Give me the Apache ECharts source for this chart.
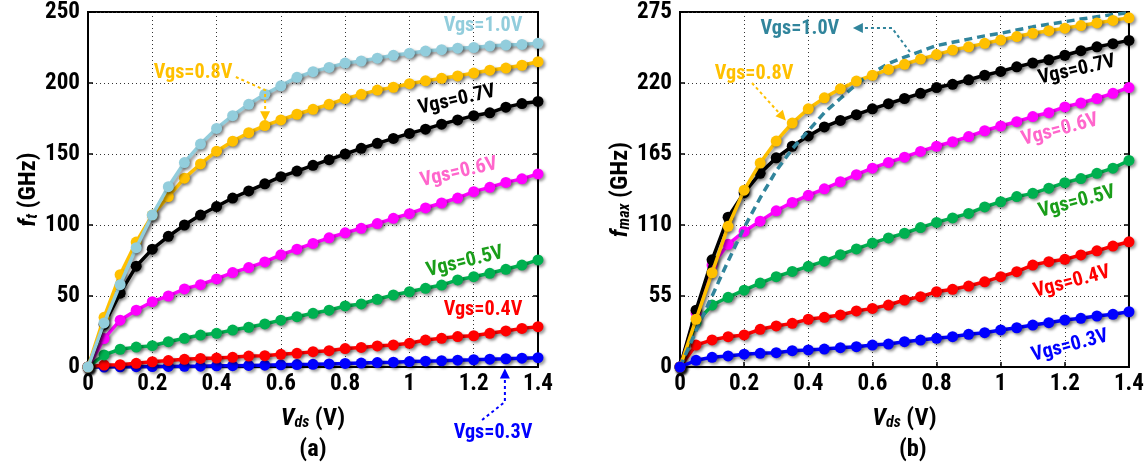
<!DOCTYPE html>
<html><head><meta charset="utf-8">
<script src="https://cdn.jsdelivr.net/npm/echarts@6/dist/echarts.min.js"></script>
<style>html,body{margin:0;padding:0;background:#fff}#c{width:1147px;height:470px}</style>
</head><body><div id="c"></div>
<script>
// ---------------- DATA ----------------
const vds = [0,0.05,0.1,0.15,0.2,0.25,0.3,0.35,0.4,0.45,0.5,0.55,0.6,0.65,0.7,0.75,0.8,0.85,0.9,0.95,1.0,1.05,1.1,1.15,1.2,1.25,1.3,1.35,1.4];
const xTicks = [0,0.2,0.4,0.6,0.8,1,1.2,1.4];
const ftTicks = [0,50,100,150,200,250];
const fmaxTicks = [0,55,110,165,220,275];

// (a) fT in GHz
const ft_vgs10 = [0,31,58,84,107,127,144,157,168,177,185,192,198,204,208,211,214,215.5,217.5,219.5,221,222.5,223.5,224.5,225,226,226.7,227.2,228];
const ft_vgs08 = [0,35,65,88,107,120,133,143,152,159,165,170,174,178,181.5,185,189,192,195,197,199.5,201.5,203.3,205,207,209,210.5,212.5,215];
const ft_vgs07 = [0,30,52,71,83,92,100,107,113,119,124,129,134,138,142,146,150,154,157.5,161,164.5,167.5,171,174,177,179,183,185.5,187];
const ft_vgs06 = [0,20,33,40,46,50,55,58,62,66.5,70,74,79,83,87,91,94.5,97.7,101,104.7,108,112,115.5,119,123.5,126.5,130,132.5,136];
const ft_vgs05 = [0,8.5,12.5,14,15,17.8,20.2,22.5,23.7,26,28,30.3,33,35.4,37.8,40,43,44.4,47.7,50.7,53,55.4,57.7,61.3,63.6,66,68.8,71.8,75.4];
const ft_vgs04 = [0,1.4,1.6,2.6,3.7,4.5,5.4,6,6.3,6.8,7.7,8,8.9,9.6,10.8,11.5,13,13.8,14.8,15.5,16.7,19,20.2,21.4,22,23.7,25.4,27.2,28.4];
const ft_vgs03 = [0,0,0.1,0.2,0.3,0.4,0.5,0.6,0.8,0.9,1.1,1.3,1.5,1.7,1.9,2.2,2.5,2.8,3.1,3.4,3.8,4.1,4.4,4.8,5.1,5.5,5.8,6.2,6.6];

// (b) fmax in GHz
const fmax_vgs10 = [0,28,55,82,108,131,152,169,183,197,208,219,228,235,240,244.5,249,251.5,254,256.5,258.5,261,263.5,265.5,267.5,269.5,271.3,273,274.5];
const fmax_vgs08 = [0,37,73,109,137,158,175,189,200,208.5,215.5,221.5,226,230.5,234.5,238.5,242,245.5,248,250.7,253.3,256,258.5,260.5,262.5,264.5,266.5,268.5,270.5];
const fmax_vgs07 = [0,44,83,116,135,150,162,171,179,186,191,195.5,200,204,208,212,216.5,219,222.5,226,229,232.5,235.5,238,241.5,245,248,250.5,253];
const fmax_vgs06 = [0,42,79,95,105,113,121,127.5,133,138,143.5,149,154,158.5,162.5,167,171,174.5,178.5,183,186.7,190,194,197,201.5,204.5,208,212,216.5];
const fmax_vgs05 = [0,34,48,54,59.5,65,70,74,78,82,87,91.5,96,100,103.6,108,112,115.5,119,124,128,132,134.5,138.5,142.8,146,150,154,160];
const fmax_vgs04 = [0,17,21,23.5,24.8,29.2,31.8,33.8,37,38.5,40.3,43.4,45.4,48,51.9,54.5,58.3,60.2,62.7,66,70,73.8,79,81.6,83.4,86.8,90,93.7,97];
const fmax_vgs03 = [0,5.2,7.5,8.6,9.9,10.6,11.1,12.6,13.2,13.9,15,15.7,17,17.8,19.6,20.9,22.2,23.5,25.3,26.6,28.7,30.4,32.5,34.3,36.4,37.7,39.5,40.8,42.8];

// ---------------- FONT PICK ----------------
function hasFont(f){
  const c = document.createElement('canvas').getContext('2d');
  const s = 'Vgs=0.123456789 (GHz) mmWi';
  let diff = false;
  ['monospace','serif'].forEach(gen=>{
    c.font = 'bold 40px ' + gen; const a = c.measureText(s).width;
    c.font = 'bold 40px "' + f + '", ' + gen; const b = c.measureText(s).width;
    if (Math.abs(a-b) > 0.5) diff = true;
  });
  return diff;
}
const narrow = ['Liberation Sans Narrow','Arial Narrow','Roboto Condensed'].find(hasFont);
const FONT = (narrow ? '"'+narrow+'",' : '') + '"Liberation Sans",Arial,sans-serif';
// width of a tick label at 1px, to keep widths near the reference's condensed type
const mctx = document.createElement('canvas').getContext('2d');
mctx.font = 'bold 100px ' + FONT;
const w250 = mctx.measureText('250').width/100;       // reference: ~34px at 24px size
const k = Math.min(1, Math.pow((34/24)/w250, 0.55));
const SZ_TICK = Math.round(24*k*10)/10;
const SZ_LBL = Math.round(21*k*10)/10;
const SZ_NAME = Math.round(25*Math.pow(k,0.6)*10)/10;

// ---------------- STYLE ----------------
const C = {v10:'#92cddc', v08:'#ffc000', v07:'#000000', v06:'#ff00ff', v05:'#00b050', v04:'#ff0000', v03:'#0000ff', teal:'#31859c'};
const LBL = {v10:'#92cddc', v08:'#ffc000', v07:'#000000', v06:'#ff66cc', v05:'#1a9e1a', v04:'#ff0000', v03:'#0000ff', teal:'#31859c'};

const pairs = ys => vds.map((x,i)=>[x, ys[i]]);
const fmt = v => String(parseFloat(Number(v).toFixed(1)));
const SH = {shadowColor:'rgba(0,0,0,0.4)', shadowBlur:3, shadowOffsetX:2, shadowOffsetY:2};

function lineSeries(ys, color, g, z){
  return {type:'line', xAxisIndex:g, yAxisIndex:g*2, data:pairs(ys), symbol:'circle', symbolSize:11,
    z:z, animation:false, silent:true,
    lineStyle:Object.assign({color:color, width:3.5}, SH),
    itemStyle:Object.assign({color:color, borderWidth:0}, SH)};
}

const nameRich = {
  i:{fontFamily:FONT, fontStyle:'italic', fontWeight:'bold', fontSize:SZ_NAME, color:'#000'},
  s:{fontFamily:FONT, fontStyle:'italic', fontWeight:'bold', fontSize:Math.round(SZ_NAME*0.65), color:'#000', verticalAlign:'bottom'},
  n:{fontFamily:FONT, fontWeight:'bold', fontSize:SZ_NAME, color:'#000'}
};
const tickLabel = {color:'#000', fontFamily:FONT, fontWeight:'bold', fontSize:SZ_TICK};

function xAx(g){
  return {gridIndex:g, type:'value', min:xTicks[0], max:xTicks[xTicks.length-1], interval:xTicks[1]-xTicks[0],
    axisLine:{show:true, onZero:false, lineStyle:{color:'#000', width:2}},
    axisTick:{show:true, inside:true, length:5, lineStyle:{color:'#000', width:1.5}},
    axisLabel:Object.assign({margin:6, formatter:fmt}, tickLabel),
    splitLine:{show:true, lineStyle:{color:'#333', width:1, type:[1,3]}},
    name:'{i|V}{s|ds}{n| (V)}', nameLocation:'middle', nameGap:40, nameTextStyle:{rich:nameRich}};
}
function yAx(g, ticks, nm, gap){
  return {gridIndex:g, type:'value', min:ticks[0], max:ticks[ticks.length-1], interval:ticks[1]-ticks[0],
    axisLine:{show:true, onZero:false, lineStyle:{color:'#000', width:2}},
    axisTick:{show:true, inside:true, length:5, lineStyle:{color:'#000', width:1.5}},
    axisLabel:Object.assign({margin:8, formatter:fmt}, tickLabel),
    splitLine:{show:true, lineStyle:{color:'#333', width:1, type:[1,3]}},
    name:nm, nameLocation:'middle', nameRotate:90, nameGap:gap, nameTextStyle:{rich:nameRich}};
}
function yAxRight(g, ticks){
  return {gridIndex:g, type:'value', position:'right', min:ticks[0], max:ticks[ticks.length-1], interval:ticks[1]-ticks[0],
    axisLine:{show:true, onZero:false, lineStyle:{color:'#000', width:2}},
    axisTick:{show:true, inside:true, length:5, lineStyle:{color:'#000', width:1.5}},
    axisLabel:{show:false}, splitLine:{show:false}};
}

const tealSeries = {type:'line', xAxisIndex:1, yAxisIndex:2, data:pairs(fmax_vgs10), symbol:'none', z:7,
  animation:false, silent:true,
  lineStyle:{color:C.teal, width:3.5, type:[8,5]}};

const option = {
  animation:false,
  backgroundColor:'#fff',
  grid:[
    {left:88, top:12, width:450, height:355, show:true, borderColor:'#000', borderWidth:2, backgroundColor:'transparent'},
    {left:680, top:12, width:449, height:355, show:true, borderColor:'#000', borderWidth:2, backgroundColor:'transparent'}
  ],
  xAxis:[xAx(0), xAx(1)],
  yAxis:[
    yAx(0, ftTicks, '{i|f}{s|t}{n| (GHz)}', 32), yAxRight(0, ftTicks),
    yAx(1, fmaxTicks, '{i|f}{s|max}{n| (GHz)}', 31), yAxRight(1, fmaxTicks)
  ],
  series:[
    lineSeries(ft_vgs03, C.v03, 0, 2),
    lineSeries(ft_vgs04, C.v04, 0, 3),
    lineSeries(ft_vgs05, C.v05, 0, 4),
    lineSeries(ft_vgs06, C.v06, 0, 5),
    lineSeries(ft_vgs07, C.v07, 0, 6),
    lineSeries(ft_vgs08, C.v08, 0, 7),
    lineSeries(ft_vgs10, C.v10, 0, 8),
    lineSeries(fmax_vgs04, C.v04, 1, 3),
    lineSeries(fmax_vgs05, C.v05, 1, 4),
    lineSeries(fmax_vgs06, C.v06, 1, 5),
    lineSeries(fmax_vgs07, C.v07, 1, 6),
    lineSeries(fmax_vgs08, C.v08, 1, 7),
    tealSeries,
    lineSeries(fmax_vgs03, C.v03, 1, 9)
  ]
};

const chart = echarts.init(document.getElementById('c'), null, {renderer:'canvas'});
chart.setOption(option);

// ---------------- ANNOTATIONS (anchored in data coordinates) ----------------
const labels = [
  {g:0, text:'Vgs=1.0V', at:[1.229, 240], rot:0, color:LBL.v10},
  {g:0, text:'Vgs=0.8V', at:[0.327, 207], rot:0, color:LBL.v08},
  {g:0, text:'Vgs=0.7V', at:[1.148, 188], rot:13, color:LBL.v07},
  {g:0, text:'Vgs=0.6V', at:[1.154, 137], rot:13, color:LBL.v06},
  {g:0, text:'Vgs=0.5V', at:[1.173, 74], rot:14, color:LBL.v05},
  {g:0, text:'Vgs=0.4V', at:[1.229, 40], rot:0, color:LBL.v04},
  {g:0, text:'Vgs=0.3V', at:[1.26, -46.5], rot:0, color:LBL.v03},
  {g:1, text:'Vgs=1.0V', at:[0.374, 262], rot:0, color:LBL.teal},
  {g:1, text:'Vgs=0.8V', at:[0.231, 227], rot:0, color:LBL.v08},
  {g:1, text:'Vgs=0.7V', at:[1.238, 230], rot:13, color:LBL.v07},
  {g:1, text:'Vgs=0.6V', at:[1.185, 183.6], rot:15, color:LBL.v06},
  {g:1, text:'Vgs=0.5V', at:[1.238, 127.8], rot:15, color:LBL.v05},
  {g:1, text:'Vgs=0.4V', at:[1.222, 65.8], rot:15, color:LBL.v04},
  {g:1, text:'Vgs=0.3V', at:[1.216, 16.3], rot:15, color:LBL.v03},
  {g:0, text:'(a)', at:[0.70, -58.5], rot:0, color:'#000', name:true},
  {g:1, text:'(b)', at:[0.726, -64.3], rot:0, color:'#000', name:true}
];
const arrows = [
  {g:0, color:LBL.v08, pts:[[0.46,204.2],[0.551,195],[0.551,173]]},
  {g:0, color:LBL.v03, pts:[[1.226,-37.3],[1.297,-24.6],[1.297,-1]]},
  {g:1, color:LBL.teal, pts:[[0.717,244],[0.661,262.6],[0.583,262.6],[0.539,262.6]]},
  {g:1, color:LBL.v08, pts:[[0.2245,220],[0.33,191]]}
];

const graphics = [];
labels.forEach(l=>{
  const p = chart.convertToPixel({gridIndex:l.g}, l.at);
  const size = l.name ? SZ_NAME : SZ_LBL;
  graphics.push({type:'text', x:p[0], y:p[1], rotation:(l.rot||0)*Math.PI/180, silent:true, z:100,
    style:{text:l.text, fill:l.color, font:'bold '+size+'px '+FONT,
      align:'center', verticalAlign:'middle', textAlign:'center', textVerticalAlign:'middle'}});
});
arrows.forEach(a=>{
  const px = a.pts.map(q=>chart.convertToPixel({gridIndex:a.g}, q));
  const tip = px[px.length-1], prev = px[px.length-2];
  const dx = tip[0]-prev[0], dy = tip[1]-prev[1], L = Math.hypot(dx,dy);
  const ux = dx/L, uy = dy/L, head = 10, half = 5;
  const base = [tip[0]-ux*head, tip[1]-uy*head];
  const linePts = px.slice(0,-1).concat([base]);
  graphics.push({type:'polyline', silent:true, z:100, shape:{points:linePts},
    style:{stroke:a.color, lineWidth:2, lineDash:[3,3], fill:null}});
  graphics.push({type:'polygon', silent:true, z:100,
    shape:{points:[tip, [base[0]-uy*half, base[1]+ux*half], [base[0]+uy*half, base[1]-ux*half]]},
    style:{fill:a.color}});
});
chart.setOption({graphic:graphics});
</script>
</body></html>
